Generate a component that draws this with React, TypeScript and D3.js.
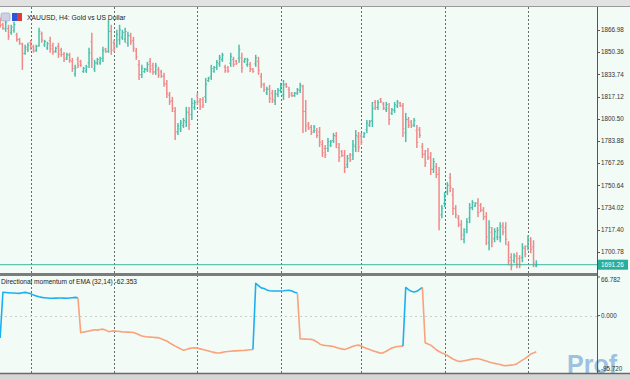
import React from "react";
import * as d3 from "d3";

const opens = [1874.2,1871.1,1867.9,1868.1,1865.3,1866.9,1863.2,1859.8,1856.5,1849.5,
1852.5,1857.5,1854.4,1851.9,1855.5,1864.0,1855.7,1853.6,1858.9,1855.2,
1851.0,1854.6,1851.9,1848.7,1845.9,1848.0,1843.5,1834.1,1844.8,1843.3,
1836.0,1836.4,1842.4,1858.3,1837.9,1842.2,1842.4,1845.9,1852.7,1851.0,
1866.0,1857.4,1855.0,1859.6,1861.5,1860.2,1857.2,1862.6,1859.1,1851.4,
1840.9,1833.6,1835.8,1837.5,1843.3,1840.1,1835.6,1837.3,1835.6,1832.3,
1826.2,1818.2,1814.1,1806.0,1790.6,1792.9,1795.5,1798.1,1805.1,1803.7,
1809.0,1817.6,1813.9,1814.8,1817.1,1829.1,1832.4,1836.2,1839.0,1841.6,
1844.8,1839.4,1838.8,1842.0,1845.0,1843.7,1845.8,1846.1,1843.3,1841.1,
1841.2,1837.7,1841.6,1843.5,1832.1,1825.7,1819.9,1822.5,1819.7,1813.7,
1818.6,1821.8,1818.4,1826.5,1822.3,1819.7,1817.8,1819.7,1821.8,1824.5,
1806.0,1796.6,1794.0,1791.4,1791.7,1790.6,1781.4,1778.4,1778.2,1780.7,
1784.3,1787.6,1778.8,1775.8,1772.8,1766.1,1773.2,1773.4,1779.7,1786.9,
1787.6,1787.2,1792.3,1795.7,1799.1,1812.7,1809.0,1815.2,1811.6,1807.5,
1808.3,1804.7,1806.9,1810.1,1812.2,1810.3,1790.0,1799.8,1798.1,1796.1,
1791.6,1792.3,1779.6,1773.9,1776.4,1771.3,1762.7,1764.6,1758.9,1728.6,
1737.2,1745.8,1756.3,1743.6,1733.5,1726.2,1720.9,1710.2,1717.7,1726.2,
1734.0,1735.3,1737.5,1735.7,1731.9,1727.0,1707.7,1715.6,1710.7,1712.0,
1711.9,1720.7,1718.8,1706.0,1696.7,1694.3,1697.6,1695.9,1696.7,1703.6,
1704.9,1708.9,1704.6,1690.4];

const highs = [1876.1,1872.4,1874.6,1870.9,1870.9,1873.1,1864.9,1861.1,1857.4,1855.9,
1857.4,1859.6,1855.9,1855.9,1868.6,1865.6,1859.6,1858.1,1861.9,1857.4,
1854.4,1857.4,1853.6,1850.6,1849.9,1849.9,1846.1,1840.9,1846.9,1844.6,
1839.4,1840.9,1853.6,1864.9,1844.6,1846.1,1846.9,1854.4,1853.6,1874.6,
1870.9,1859.6,1867.1,1870.9,1867.1,1868.6,1865.6,1864.9,1861.9,1853.6,
1844.6,1840.9,1838.6,1843.1,1846.1,1842.4,1842.4,1839.4,1837.1,1834.9,
1829.6,1820.6,1816.9,1809.4,1797.4,1799.6,1801.1,1809.4,1809.4,1816.1,
1814.6,1819.9,1816.1,1816.9,1831.1,1831.9,1840.9,1840.1,1844.6,1848.4,
1849.9,1840.9,1840.1,1849.9,1846.9,1844.6,1855.9,1849.9,1846.1,1846.1,
1843.1,1838.6,1848.4,1846.9,1834.9,1827.4,1824.4,1825.9,1822.1,1822.1,
1823.6,1827.4,1829.6,1827.4,1824.4,1820.6,1820.6,1823.6,1827.4,1825.9,
1814.6,1798.1,1795.9,1795.9,1793.6,1794.4,1784.6,1780.9,1786.1,1784.6,
1789.9,1790.6,1782.4,1777.1,1777.1,1773.4,1774.9,1784.6,1792.1,1790.6,
1789.9,1790.6,1799.6,1799.6,1813.1,1814.6,1814.6,1816.1,1813.1,1813.1,
1812.4,1808.6,1813.1,1814.6,1813.1,1812.4,1804.9,1801.9,1799.6,1801.1,
1795.9,1794.4,1782.4,1777.1,1778.6,1775.6,1771.1,1767.4,1764.4,1735.9,
1745.6,1753.1,1759.9,1748.6,1735.9,1728.4,1724.6,1718.6,1726.1,1737.4,
1739.6,1738.1,1741.1,1737.4,1734.4,1730.6,1724.6,1719.4,1718.6,1719.4,
1723.1,1723.1,1723.1,1708.9,1699.9,1699.9,1700.6,1698.4,1707.4,1705.9,
1713.4,1711.9,1709.6,1694.6];

const lows = [1868.6,1867.1,1865.6,1859.6,1863.4,1864.9,1858.1,1855.9,1837.1,1848.4,
1850.6,1852.1,1849.9,1850.6,1854.4,1857.4,1854.4,1852.1,1849.9,1848.4,
1849.9,1846.1,1846.9,1843.1,1844.6,1842.4,1835.6,1831.9,1838.6,1839.4,
1834.9,1834.9,1838.6,1838.6,1835.6,1840.9,1840.9,1843.1,1849.9,1849.9,
1848.4,1850.6,1853.6,1855.9,1859.6,1857.4,1854.4,1855.9,1850.6,1844.6,
1829.6,1831.1,1834.9,1835.6,1834.9,1833.4,1833.4,1831.1,1831.1,1824.4,
1816.1,1810.9,1805.6,1784.6,1788.4,1790.6,1793.6,1794.4,1792.1,1799.6,
1807.1,1810.9,1807.1,1808.6,1812.4,1828.1,1829.6,1834.9,1837.1,1839.4,
1843.1,1834.9,1834.9,1839.4,1839.4,1840.9,1842.4,1834.9,1842.4,1839.4,
1835.6,1834.9,1839.4,1833.4,1823.6,1820.6,1818.4,1812.4,1812.4,1810.9,
1816.9,1819.9,1814.6,1823.6,1816.1,1816.9,1816.9,1818.4,1819.9,1789.9,
1790.6,1792.1,1788.4,1789.9,1786.1,1779.4,1771.9,1771.1,1775.6,1779.4,
1782.4,1778.6,1768.1,1771.9,1759.9,1763.6,1768.1,1769.6,1775.6,1775.6,
1780.9,1786.1,1789.9,1794.4,1794.4,1807.1,1807.1,1812.4,1807.1,1805.6,
1795.9,1803.4,1804.9,1808.6,1809.4,1786.9,1783.1,1793.6,1793.6,1794.4,
1778.6,1786.1,1771.1,1764.4,1769.6,1758.4,1759.9,1756.1,1717.1,1726.1,
1734.4,1743.4,1745.6,1728.4,1726.1,1719.4,1709.6,1707.4,1714.9,1722.4,
1732.1,1734.4,1726.9,1730.6,1724.6,1705.9,1702.1,1704.4,1708.1,1709.6,
1708.1,1713.4,1705.9,1690.9,1687.1,1692.4,1688.6,1688.6,1693.1,1696.9,
1702.1,1699.9,1689.4,1689.4];

const closes = [1870.5,1868.4,1872.4,1862.4,1869.0,1871.1,1859.8,1857.2,1849.5,1854.0,
1855.6,1853.9,1851.4,1854.6,1866.0,1859.5,1858.3,1856.6,1852.9,1850.6,
1853.3,1848.9,1848.6,1845.0,1848.6,1844.3,1838.2,1838.6,1840.7,1840.7,
1838.3,1839.4,1849.9,1845.2,1842.4,1844.8,1845.4,1851.6,1850.8,1866.0,
1852.0,1852.9,1863.7,1867.1,1865.2,1865.8,1862.8,1858.1,1853.4,1846.9,
1833.4,1838.5,1837.7,1841.2,1837.7,1835.6,1840.1,1833.2,1832.6,1827.0,
1819.5,1813.3,1808.4,1790.8,1795.1,1797.4,1799.2,1805.6,1796.4,1812.0,
1812.7,1813.2,1809.4,1810.7,1826.4,1830.9,1838.1,1838.8,1842.7,1846.1,
1848.2,1836.4,1836.2,1847.3,1841.3,1841.8,1852.5,1838.6,1845.2,1844.4,
1837.5,1835.8,1846.1,1836.8,1826.4,1822.3,1822.9,1815.8,1814.8,1819.3,
1821.9,1825.5,1825.9,1824.6,1818.2,1817.8,1819.7,1822.3,1825.5,1806.0,
1795.0,1793.6,1790.3,1794.4,1788.0,1783.1,1775.1,1773.6,1783.5,1783.3,
1788.0,1781.6,1771.7,1773.2,1764.2,1770.9,1769.8,1780.9,1788.0,1779.4,
1783.1,1789.5,1797.2,1798.3,1808.4,1809.0,1812.7,1813.3,1808.6,1811.2,
1800.0,1807.3,1811.0,1813.1,1810.3,1793.0,1800.0,1795.7,1795.1,1799.4,
1782.9,1788.2,1773.9,1767.6,1771.9,1762.7,1768.3,1758.9,1725.0,1733.5,
1742.8,1750.7,1749.2,1733.4,1728.6,1721.7,1713.4,1715.8,1723.3,1733.7,
1737.7,1737.2,1730.4,1732.3,1727.1,1712.0,1719.0,1708.2,1716.0,1717.0,
1719.4,1715.8,1710.2,1694.3,1690.3,1698.0,1691.6,1691.1,1703.8,1699.2,
1710.6,1702.9,1692.5,1691.26];

const momentum = [-38.7,40.4,40.0,39.5,39.0,39.0,38.7,38.5,39.5,40.2,
39.0,38.0,35.5,34.0,32.5,31.6,31.0,30.5,30.0,30.0,
30.2,30.5,30.5,30.2,30.0,30.5,31.0,31.6,31.0,-29.3,
-28.5,-27.5,-26.5,-25.5,-24.5,-25.1,-24.0,-23.4,-25.0,-27.6,
-27.0,-26.4,-27.0,-27.5,-28.1,-28.3,-28.5,-28.8,-29.3,-31.0,
-33.0,-35.1,-36.0,-36.9,-37.2,-37.5,-38.0,-38.1,-40.0,-42.0,
-43.9,-47.0,-50.0,-52.7,-55.0,-57.5,-59.8,-58.5,-57.0,-56.0,
-55.7,-56.5,-57.5,-58.5,-59.8,-61.0,-62.5,-63.5,-64.5,-64.5,
-63.5,-62.5,-62.0,-61.5,-61.0,-61.0,-60.5,-60.3,-60.0,-59.5,
-59.0,-58.5,55.7,52.0,48.0,46.9,44.5,43.0,42.7,42.7,
42.7,42.7,43.0,43.5,43.9,42.5,40.5,39.2,-40.4,-40.4,
-40.6,-40.8,-41.0,-42.5,-45.5,-49.0,-51.0,-51.6,-52.2,-52.7,
-53.5,-55.0,-56.5,-57.5,-58.5,-57.0,-55.0,-53.0,-51.5,-51.0,
-52.5,-55.0,-56.8,-58.5,-60.5,-62.0,-63.5,-65.0,-64.0,-61.5,
-58.5,-56.0,-54.5,-53.5,-53.0,-52.7,48.7,45.0,42.0,41.0,
42.0,45.5,48.7,-46.9,-49.0,-51.0,-55.0,-59.0,-62.0,-64.5,
-66.5,-69.0,-72.0,-75.0,-77.0,-79.1,-79.0,-78.0,-77.0,-76.0,
-75.2,-74.5,-74.4,-75.5,-77.0,-78.5,-80.3,-81.5,-82.5,-83.5,
-84.5,-86.0,-86.7,-86.0,-85.5,-84.9,-83.0,-80.0,-77.0,-74.0,
-70.3,-66.5,-64.5,-62.353];

const weekStarts = [11, 41, 71, 101, 130, 160, 190];
const priceTicks = [1866.98, 1850.36, 1833.74, 1817.12, 1800.50, 1783.88, 1767.26, 1750.64, 1734.02, 1717.40, 1700.78];
const momTicks = [66.782, 0, -95.72];
const currentPrice = 1691.26;
const symbolTitle = "XAUUSD, H4:  Gold vs US Dollar";
const indicatorTitle = "Directional momentum of EMA (32,14) -62.353";
const watermark = "Prof";

const BG = "#f2fbf6";
const UP = "#4cbfab";
const DOWN = "#f08a8a";
const BLUE = "#1cb0f0";
const ORANGE = "#f9a27c";
const FONT = "Liberation Sans, Arial, sans-serif";

export default function App() {
  const n = closes.length;
  const x = d3.scaleLinear().domain([0, n - 1]).range([0.14, 536.3]);
  const yMain = d3.scaleLinear().domain([1685.8, 1884.2]).range([272, 7]);
  const yMom = d3.scaleLinear().domain([-95.72, 66.782]).range([371, 277]);
  const axisX = 597;

  const runs: { color: string; pts: [number, number][] }[] = [];
  for (let i = 1; i < n; i++) {
    const color = momentum[i] >= 0 ? BLUE : ORANGE;
    const p0: [number, number] = [x(i - 1), yMom(momentum[i - 1])];
    const p1: [number, number] = [x(i), yMom(momentum[i])];
    const last = runs[runs.length - 1];
    if (last && last.color === color) last.pts.push(p1);
    else runs.push({ color, pts: [p0, p1] });
  }
  const line = d3.line<[number, number]>();

  return (
    <svg width={630} height={380} style={{ position: "absolute", left: 0, top: 0, display: "block" }}>
      <defs>
        <clipPath id="mainClip"><rect x={0} y={7} width={axisX} height={265} /></clipPath>
        <clipPath id="momClip"><rect x={0} y={276} width={axisX} height={97} /></clipPath>
      </defs>
      <rect x={0} y={0} width={630} height={380} fill={BG} />
      <rect x={0} y={0} width={630} height={6} fill="#e2e2e2" />
      <line x1={0} x2={630} y1={6.5} y2={6.5} stroke="#9a9a9a" />

      {weekStarts.map((i) => (
        <line key={i} x1={Math.round(x(i)) + 0.5} x2={Math.round(x(i)) + 0.5} y1={7} y2={373}
          stroke="#6a6a6a" strokeWidth={1} strokeDasharray="2,2" />
      ))}

      <line x1={0} x2={axisX} y1={Math.round(yMom(0)) + 0.5} y2={Math.round(yMom(0)) + 0.5}
        stroke="#c8d0cc" strokeDasharray="2,3" />

      <g clipPath="url(#mainClip)">
        {closes.map((c, i) => {
          const col = c >= opens[i] ? UP : DOWN;
          const cx = x(i);
          return (
            <g key={i} stroke={col}>
              <line x1={cx} x2={cx} y1={yMain(highs[i])} y2={yMain(lows[i])} strokeWidth={1.5} />
              <line x1={cx - 1.4} x2={cx} y1={yMain(opens[i])} y2={yMain(opens[i])} strokeWidth={1} />
              <line x1={cx} x2={cx + 1.4} y1={yMain(c)} y2={yMain(c)} strokeWidth={1} />
            </g>
          );
        })}
      </g>

      <line x1={0} x2={axisX} y1={yMain(currentPrice)} y2={yMain(currentPrice)} stroke="#3db5a3" strokeWidth={1} />

      <g clipPath="url(#momClip)">
        {runs.map((r, k) => (
          <path key={k} d={line(r.pts) || ""} fill="none" stroke={r.color} strokeWidth={1.6} strokeLinejoin="round" />
        ))}
      </g>

      <rect x={0} y={273} width={axisX} height={3} fill="#7c7c7c" />
      <rect x={0} y={373} width={630} height={7} fill="#d6d6d6" />

      <text x={567} y={373} fontSize={25} fontWeight="bold" fontFamily={FONT} fill="#5b93cf" opacity={0.55}>{watermark}</text>

      <line x1={0} x2={630} y1={373.5} y2={373.5} stroke="#6a6a6a" strokeWidth={1.5} />

      <line x1={axisX + 0.5} x2={axisX + 0.5} y1={7} y2={373} stroke="#555" />
      {priceTicks.map((t) => (
        <g key={t}>
          <line x1={axisX} x2={axisX + 3} y1={Math.round(yMain(t)) + 0.5} y2={Math.round(yMain(t)) + 0.5} stroke="#555" />
          <text x={axisX + 4} y={yMain(t)} dy="0.35em" fontSize={6.3} fontFamily={FONT} fill="#333">{t.toFixed(2)}</text>
        </g>
      ))}
      <rect x={axisX + 1} y={yMain(currentPrice) - 5} width={30} height={10} fill="#2aae9c" />
      <text x={axisX + 4} y={yMain(currentPrice)} dy="0.35em" fontSize={6.3} fontFamily={FONT} fill="#ffffff">{currentPrice.toFixed(2)}</text>

      {momTicks.map((t, k) => (
        <g key={t}>
          <line x1={axisX} x2={axisX + 3} y1={yMom(t)} y2={yMom(t)} stroke="#555" />
          <text x={axisX + 4} y={yMom(t) + (k === 0 ? 2.5 : k === 2 ? -2.5 : 0)} dy="0.35em" fontSize={6.3} fontFamily={FONT} fill="#333">{t.toFixed(3)}</text>
        </g>
      ))}

      <rect x={1} y={13} width={9} height={8} rx={1.5} fill="#cfd0e6" stroke="#9a9ab8" strokeWidth={0.6} />
      <rect x={12} y={13} width={5} height={8} fill="#2f56d8" />
      <rect x={17} y={13} width={5} height={8} fill="#e03a3a" />
      <text x={27} y={20} fontSize={6.8} fontFamily={FONT} fill="#222">{symbolTitle}</text>
      <text x={1} y={284} fontSize={6.6} fontFamily={FONT} fill="#222">{indicatorTitle}</text>
    </svg>
  );
}
